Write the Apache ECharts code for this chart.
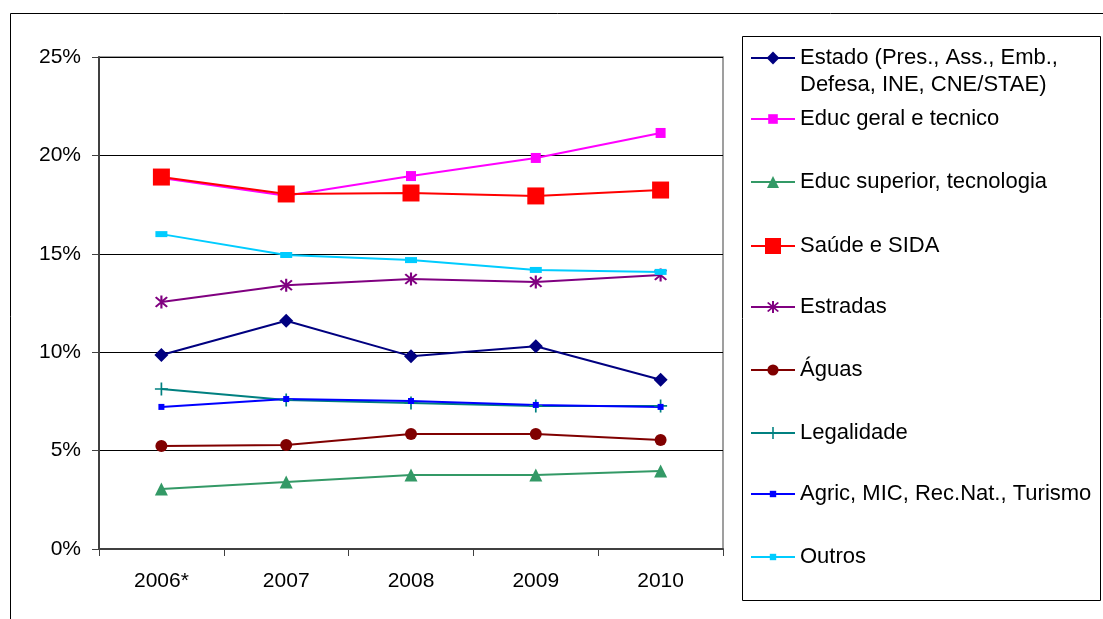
<!DOCTYPE html>
<html>
<head>
<meta charset="utf-8">
<script src="https://cdn.jsdelivr.net/npm/echarts@6/dist/echarts.min.js"></script>
<style>html,body{margin:0;padding:0;background:#fff}#c{width:1103px;height:619px}</style>
</head>
<body>
<div id="c"></div>
<script>
const categories = ['2006*', '2007', '2008', '2009', '2010'];
const yTicks = [0, 0.05, 0.10, 0.15, 0.20, 0.25];

const estado      = [0.0986, 0.116, 0.098, 0.103, 0.086];
const educGeral   = [0.1885, 0.1795, 0.1895, 0.1987, 0.2114];
const educSup     = [0.0305, 0.034, 0.0376, 0.0376, 0.0396];
const saude       = [0.189, 0.1804, 0.1809, 0.1794, 0.1824];
const estradas    = [0.1255, 0.134, 0.1372, 0.1357, 0.1392];
const aguas       = [0.0523, 0.0528, 0.0584, 0.0584, 0.0554];
const legalidade  = [0.0813, 0.0757, 0.0742, 0.0727, 0.0727];
const agric       = [0.0722, 0.0762, 0.0752, 0.0732, 0.0722];
const outros      = [0.160, 0.1494, 0.1468, 0.1418, 0.1408];

const names = [
  'Estado (Pres., Ass., Emb., Defesa, INE, CNE/STAE)',
  'Educ geral e tecnico',
  'Educ superior, tecnologia',
  'Saúde e SIDA',
  'Estradas',
  'Águas',
  'Legalidade',
  'Agric, MIC, Rec.Nat., Turismo',
  'Outros'
];
const values = [estado, educGeral, educSup, saude, estradas, aguas, legalidade, agric, outros];

const FONT = 'Liberation Sans';
const asterisk = 'path://M8.6,0 L11.4,0 L11.4,20 L8.6,20 Z M3.5,1.5 L18.5,16.5 L16.5,18.5 L1.5,3.5 Z M16.5,1.5 L18.5,3.5 L3.5,18.5 L1.5,16.5 Z';
const plus = 'path://M8.7,0 L11.3,0 L11.3,20 L8.7,20 Z M0,8.7 L20,8.7 L20,11.3 L0,11.3 Z';
const dash = 'path://M0,0 L20,0 L20,10 L0,10 Z';

const styles = [
  {color: '#000080', symbol: 'diamond', size: 14, legendH: 16},
  {color: '#FF00FF', symbol: 'rect', size: 10, legendH: 12},
  {color: '#339966', symbol: 'triangle', size: 13, legendH: 15},
  {color: '#FF0000', symbol: 'rect', size: 17, legendH: 20},
  {color: '#800080', symbol: asterisk, size: 13, legendH: 15},
  {color: '#800000', symbol: 'circle', size: 12, legendH: 14},
  {color: '#008080', symbol: plus, size: 13, legendH: 15},
  {color: '#0000FF', symbol: 'rect', size: 6, legendH: 8},
  {color: '#00CCFF', symbol: dash, size: [12, 6], legendH: 8}
];
const legendCenters = [58, 119, 182, 246, 307, 370, 433, 494, 557];

const series = names.map((n, i) => ({
  name: n,
  type: 'line',
  data: values[i],
  symbol: styles[i].symbol,
  symbolSize: styles[i].size,
  showAllSymbol: true,
  color: styles[i].color,
  lineStyle: {width: 2, color: styles[i].color},
  itemStyle: {color: styles[i].color, borderWidth: 0},
  emphasis: {disabled: true},
  animation: false
}));

const LH = 27;
const legends = names.map((n, i) => {
  const first = i === 0;
  return {
    show: true,
    orient: 'vertical',
    left: 750,
    top: first ? legendCenters[i] - 1.5 * LH : legendCenters[i] - LH / 2,
    padding: 0,
    itemWidth: 44,
    itemHeight: styles[i].legendH,
    selectedMode: false,
    data: [{name: n}],
    formatter: first ? ' \nEstado (Pres., Ass., Emb.,\nDefesa, INE, CNE/STAE)' : '{name}',
    textStyle: {fontFamily: FONT, fontSize: 22, color: '#000', lineHeight: LH}
  };
});

const chart = echarts.init(document.getElementById('c'), null, {renderer: 'canvas'});
chart.setOption({
  animation: false,
  backgroundColor: '#fff',
  graphic: [
    {type: 'rect', shape: {x: 10.5, y: 13.5, width: 1100, height: 700}, style: {fill: 'none', stroke: '#000', lineWidth: 1}, z: -10},
    {type: 'rect', shape: {x: 742.5, y: 36.5, width: 358, height: 564}, style: {fill: '#fff', stroke: '#000', lineWidth: 1}, z: -5}
  ],
  grid: {left: 99, top: 57, right: 380, bottom: 70, show: true, borderColor: '#808080', borderWidth: 1.5, backgroundColor: 'transparent'},
  legend: legends,
  xAxis: {
    type: 'category',
    data: categories,
    boundaryGap: true,
    axisLine: {show: true, lineStyle: {color: '#404040', width: 2}},
    axisTick: {show: true, length: 7, lineStyle: {color: '#404040', width: 1}},
    axisLabel: {fontFamily: FONT, fontSize: 21, color: '#000', margin: 22},
    splitLine: {show: false}
  },
  yAxis: {
    type: 'value',
    min: yTicks[0],
    max: yTicks[yTicks.length - 1],
    interval: yTicks[1] - yTicks[0],
    axisLine: {show: true, lineStyle: {color: '#404040', width: 2}},
    axisTick: {show: true, length: 7, lineStyle: {color: '#404040', width: 1}},
    axisLabel: {fontFamily: FONT, fontSize: 21, color: '#000', margin: 18,
      formatter: v => Math.round(v * 100) + '%'},
    splitLine: {show: true, lineStyle: {color: '#000', width: 1}}
  },
  series: series
});
</script>
</body>
</html>
